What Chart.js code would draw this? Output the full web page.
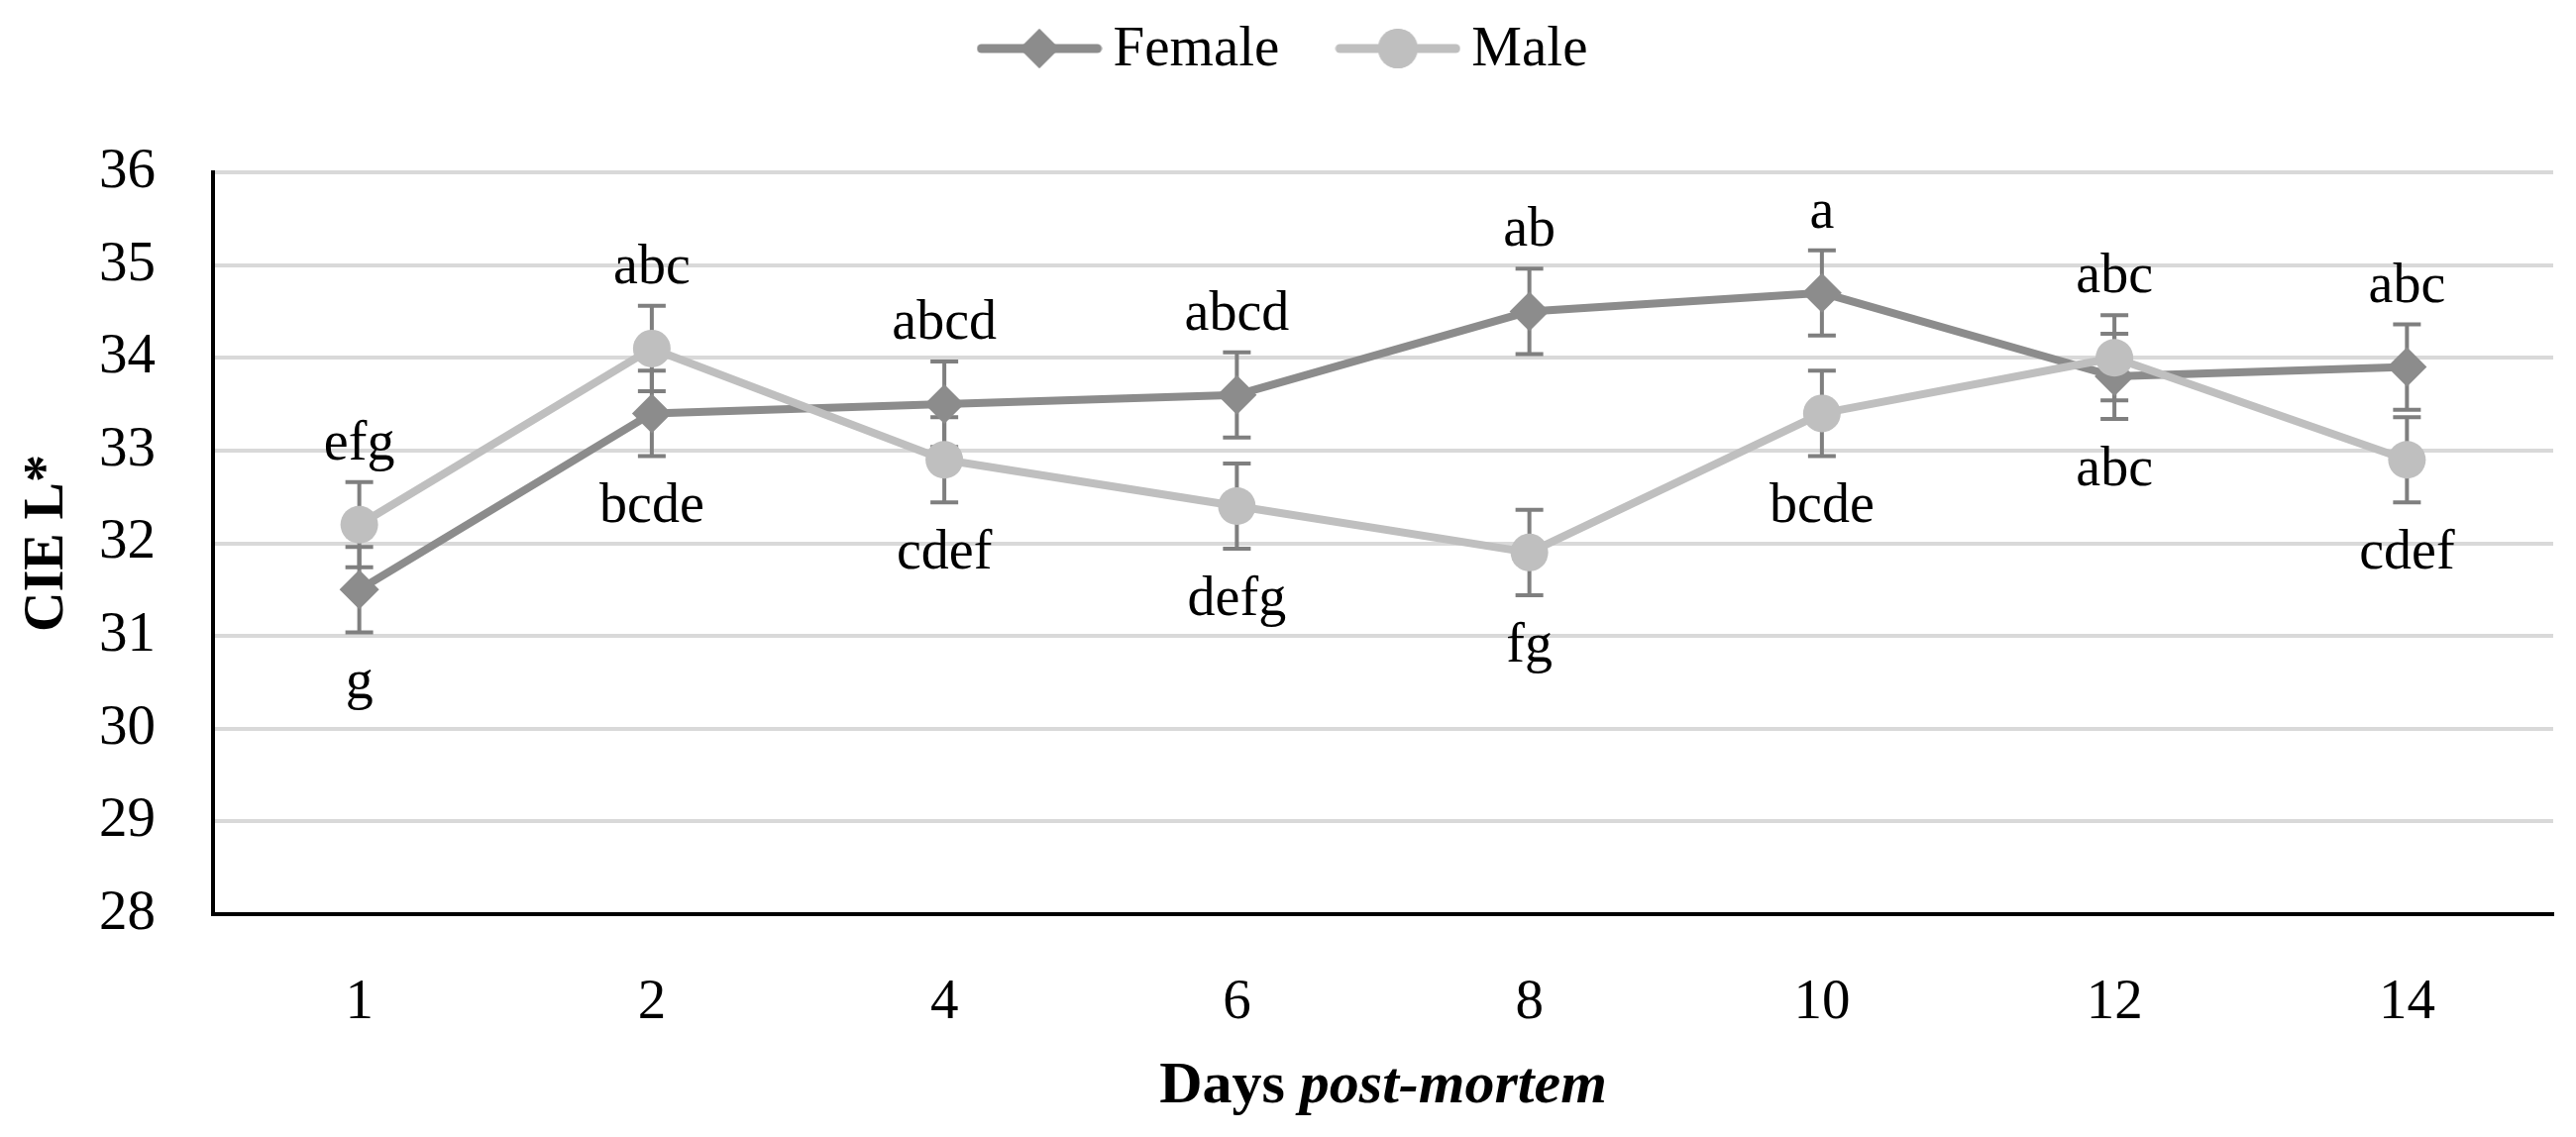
<!DOCTYPE html>
<html>
<head>
<meta charset="utf-8">
<script src="https://cdn.jsdelivr.net/npm/chart.js@4.4.1/dist/chart.umd.min.js"></script>
<style>
  html, body { margin: 0; padding: 0; background: #fff; }
  #space { width: 2600px; height: 1148px; }
</style>
</head>
<body>
<div id="space"><canvas id="myChart" width="2600" height="1148"></canvas></div>
<script>
// days post-mortem
const days = ["1", "2", "4", "6", "8", "10", "12", "14"];

// CIE L* means
const female = [31.5, 33.4, 33.5, 33.6, 34.5, 34.7, 33.8, 33.9];
const male = [32.2, 34.1, 32.9, 32.4, 31.9, 33.4, 34.0, 32.9];

// error bars (+/-)
const femaleErr = [0.46, 0.46, 0.46, 0.46, 0.46, 0.46, 0.46, 0.46];
const maleErr = [0.46, 0.46, 0.46, 0.46, 0.46, 0.46, 0.46, 0.46];

// significance letters
const femaleLetters = ["g", "bcde", "abcd", "abcd", "ab", "a", "abc", "abc"];
const maleLetters = ["efg", "abc", "cdef", "defg", "fg", "bcde", "abc", "cdef"];

// y axis
const yMin = 28;
const yMax = 36;
const yStep = 1;

const serif = "'Liberation Serif', 'Times New Roman', serif";
const femaleColor = "#8c8c8c";
const maleColor = "#bfbfbf";

// error bars go under the lines and markers
const errorBars = {
	id: "errorBars",
	beforeDatasetsDraw(chart) {
		const ctx = chart.ctx;
		const yScale = chart.scales.y;
		ctx.save();
		ctx.strokeStyle = "#7f7f7f";
		ctx.lineWidth = 4;
		chart.data.datasets.forEach((ds, di) => {
			const meta = chart.getDatasetMeta(di);
			meta.data.forEach((pt, i) => {
				const top = yScale.getPixelForValue(ds.data[i] + ds.err[i]);
				const bot = yScale.getPixelForValue(ds.data[i] - ds.err[i]);
				ctx.beginPath();
				ctx.moveTo(pt.x, top);
				ctx.lineTo(pt.x, bot);
				ctx.moveTo(pt.x - 14, top);
				ctx.lineTo(pt.x + 14, top);
				ctx.moveTo(pt.x - 14, bot);
				ctx.lineTo(pt.x + 14, bot);
				ctx.stroke();
			});
		});
		ctx.restore();
	},
};

// letters: above the higher series, below the lower one
const letterLabels = {
	id: "letterLabels",
	afterDatasetsDraw(chart) {
		const ctx = chart.ctx;
		const yScale = chart.scales.y;
		const sets = chart.data.datasets;
		ctx.save();
		ctx.font = "56px " + serif;
		ctx.fillStyle = "#000";
		ctx.textAlign = "center";
		ctx.textBaseline = "alphabetic";
		sets.forEach((ds, di) => {
			const meta = chart.getDatasetMeta(di);
			meta.data.forEach((pt, i) => {
				const highest = Math.max(...sets.map((d) => d.data[i]));
				const py = yScale.getPixelForValue(ds.data[i]);
				const y = ds.data[i] >= highest ? py - 66 : py + 110;
				ctx.fillText(ds.letters[i], pt.x, y);
			});
		});
		ctx.restore();
	},
};

function markerImage(ds) {
	const c = document.createElement("canvas");
	c.width = 127;
	c.height = 44;
	const g = c.getContext("2d");
	g.strokeStyle = ds.borderColor;
	g.fillStyle = ds.borderColor;
	g.lineWidth = 9;
	g.lineCap = "round";
	g.beginPath();
	g.moveTo(5, 22);
	g.lineTo(122, 22);
	g.stroke();
	Chart.helpers.drawPoint(g, { pointStyle: ds.pointStyle, radius: 20, borderWidth: 0 }, 63.5, 22);
	g.fill();
	return c;
}

// Excel-like legend: line + marker, then text
const topLegend = {
	id: "topLegend",
	afterDraw(chart) {
		const ctx = chart.ctx;
		const sets = chart.data.datasets;
		ctx.save();
		ctx.font = "57px " + serif;
		const widths = sets.map((ds) => ctx.measureText(ds.label).width);
		let total = 0;
		widths.forEach((w, i) => (total += 127 + 11 + w + (i ? 0 : 56)));
		let x = chart.width / 2 - 6 - total / 2;
		sets.forEach((ds, i) => {
			ctx.drawImage(markerImage(ds), x, 27);
			x += 127 + 11;
			ctx.fillStyle = "#000";
			ctx.textBaseline = "alphabetic";
			ctx.fillText(ds.label, x, 66);
			x += widths[i] + 56;
		});
		ctx.restore();
	},
};

// x title with italic part
const xTitle = {
	id: "xTitle",
	afterDraw(chart) {
		const ctx = chart.ctx;
		const area = chart.chartArea;
		ctx.save();
		ctx.fillStyle = "#000";
		ctx.textBaseline = "alphabetic";
		const f1 = "bold 60px " + serif;
		const f2 = "italic bold 60px " + serif;
		ctx.font = f1;
		const w1 = ctx.measureText("Days ").width;
		ctx.font = f2;
		const w2 = ctx.measureText("post-mortem").width;
		let x = (area.left + area.right) / 2 - (w1 + w2) / 2;
		const y = area.bottom + 190;
		ctx.font = f1;
		ctx.fillText("Days ", x, y);
		ctx.font = f2;
		ctx.fillText("post-mortem", x + w1, y);
		ctx.restore();
	},
};

const ctx = document.getElementById("myChart").getContext("2d");
const myChart = new Chart(ctx, {
	type: "line",
	data: {
		labels: days,
		datasets: [
			{
				label: "Female",
				data: female,
				err: femaleErr,
				letters: femaleLetters,
				borderColor: femaleColor,
				backgroundColor: femaleColor,
				borderWidth: 8,
				pointStyle: "rectRot",
				pointRadius: 20,
				pointHoverRadius: 20,
				pointBorderWidth: 0,
				order: 1,
			},
			{
				label: "Male",
				data: male,
				err: maleErr,
				letters: maleLetters,
				borderColor: maleColor,
				backgroundColor: maleColor,
				borderWidth: 8,
				pointStyle: "circle",
				pointRadius: 19,
				pointHoverRadius: 19,
				pointBorderWidth: 0,
				order: 0,
			},
		],
	},
	options: {
		responsive: false,
		animation: false,
		devicePixelRatio: 1,
		layout: { padding: { top: 174, right: 23, bottom: 0, left: 0 } },
		elements: { line: { tension: 0, borderJoinStyle: "round" } },
		plugins: {
			legend: { display: false },
			tooltip: { enabled: false },
		},
		scales: {
			x: {
				offset: true,
				grid: { color: "rgba(0,0,0,0)", drawTicks: false },
				border: { display: true, color: "#000", width: 4 },
				ticks: { color: "#000", padding: 56, font: { family: serif, size: 57 } },
				afterFit: (scale) => {
					scale.height = 225;
				},
			},
			y: {
				min: yMin,
				max: yMax,
				ticks: { stepSize: yStep, color: "#000", padding: 58, font: { family: serif, size: 57 } },
				grid: { color: "#d9d9d9", lineWidth: 4, drawTicks: false },
				border: { display: true, color: "#000", width: 4 },
				title: {
					display: true,
					text: "CIE L*",
					color: "#000",
					padding: { top: 15, bottom: 0 },
					font: { family: serif, size: 56, weight: "bold" },
				},
				afterFit: (scale) => {
					scale.width = 215;
				},
			},
		},
	},
	plugins: [errorBars, letterLabels, topLegend, xTitle],
});
</script>
</body>
</html>
